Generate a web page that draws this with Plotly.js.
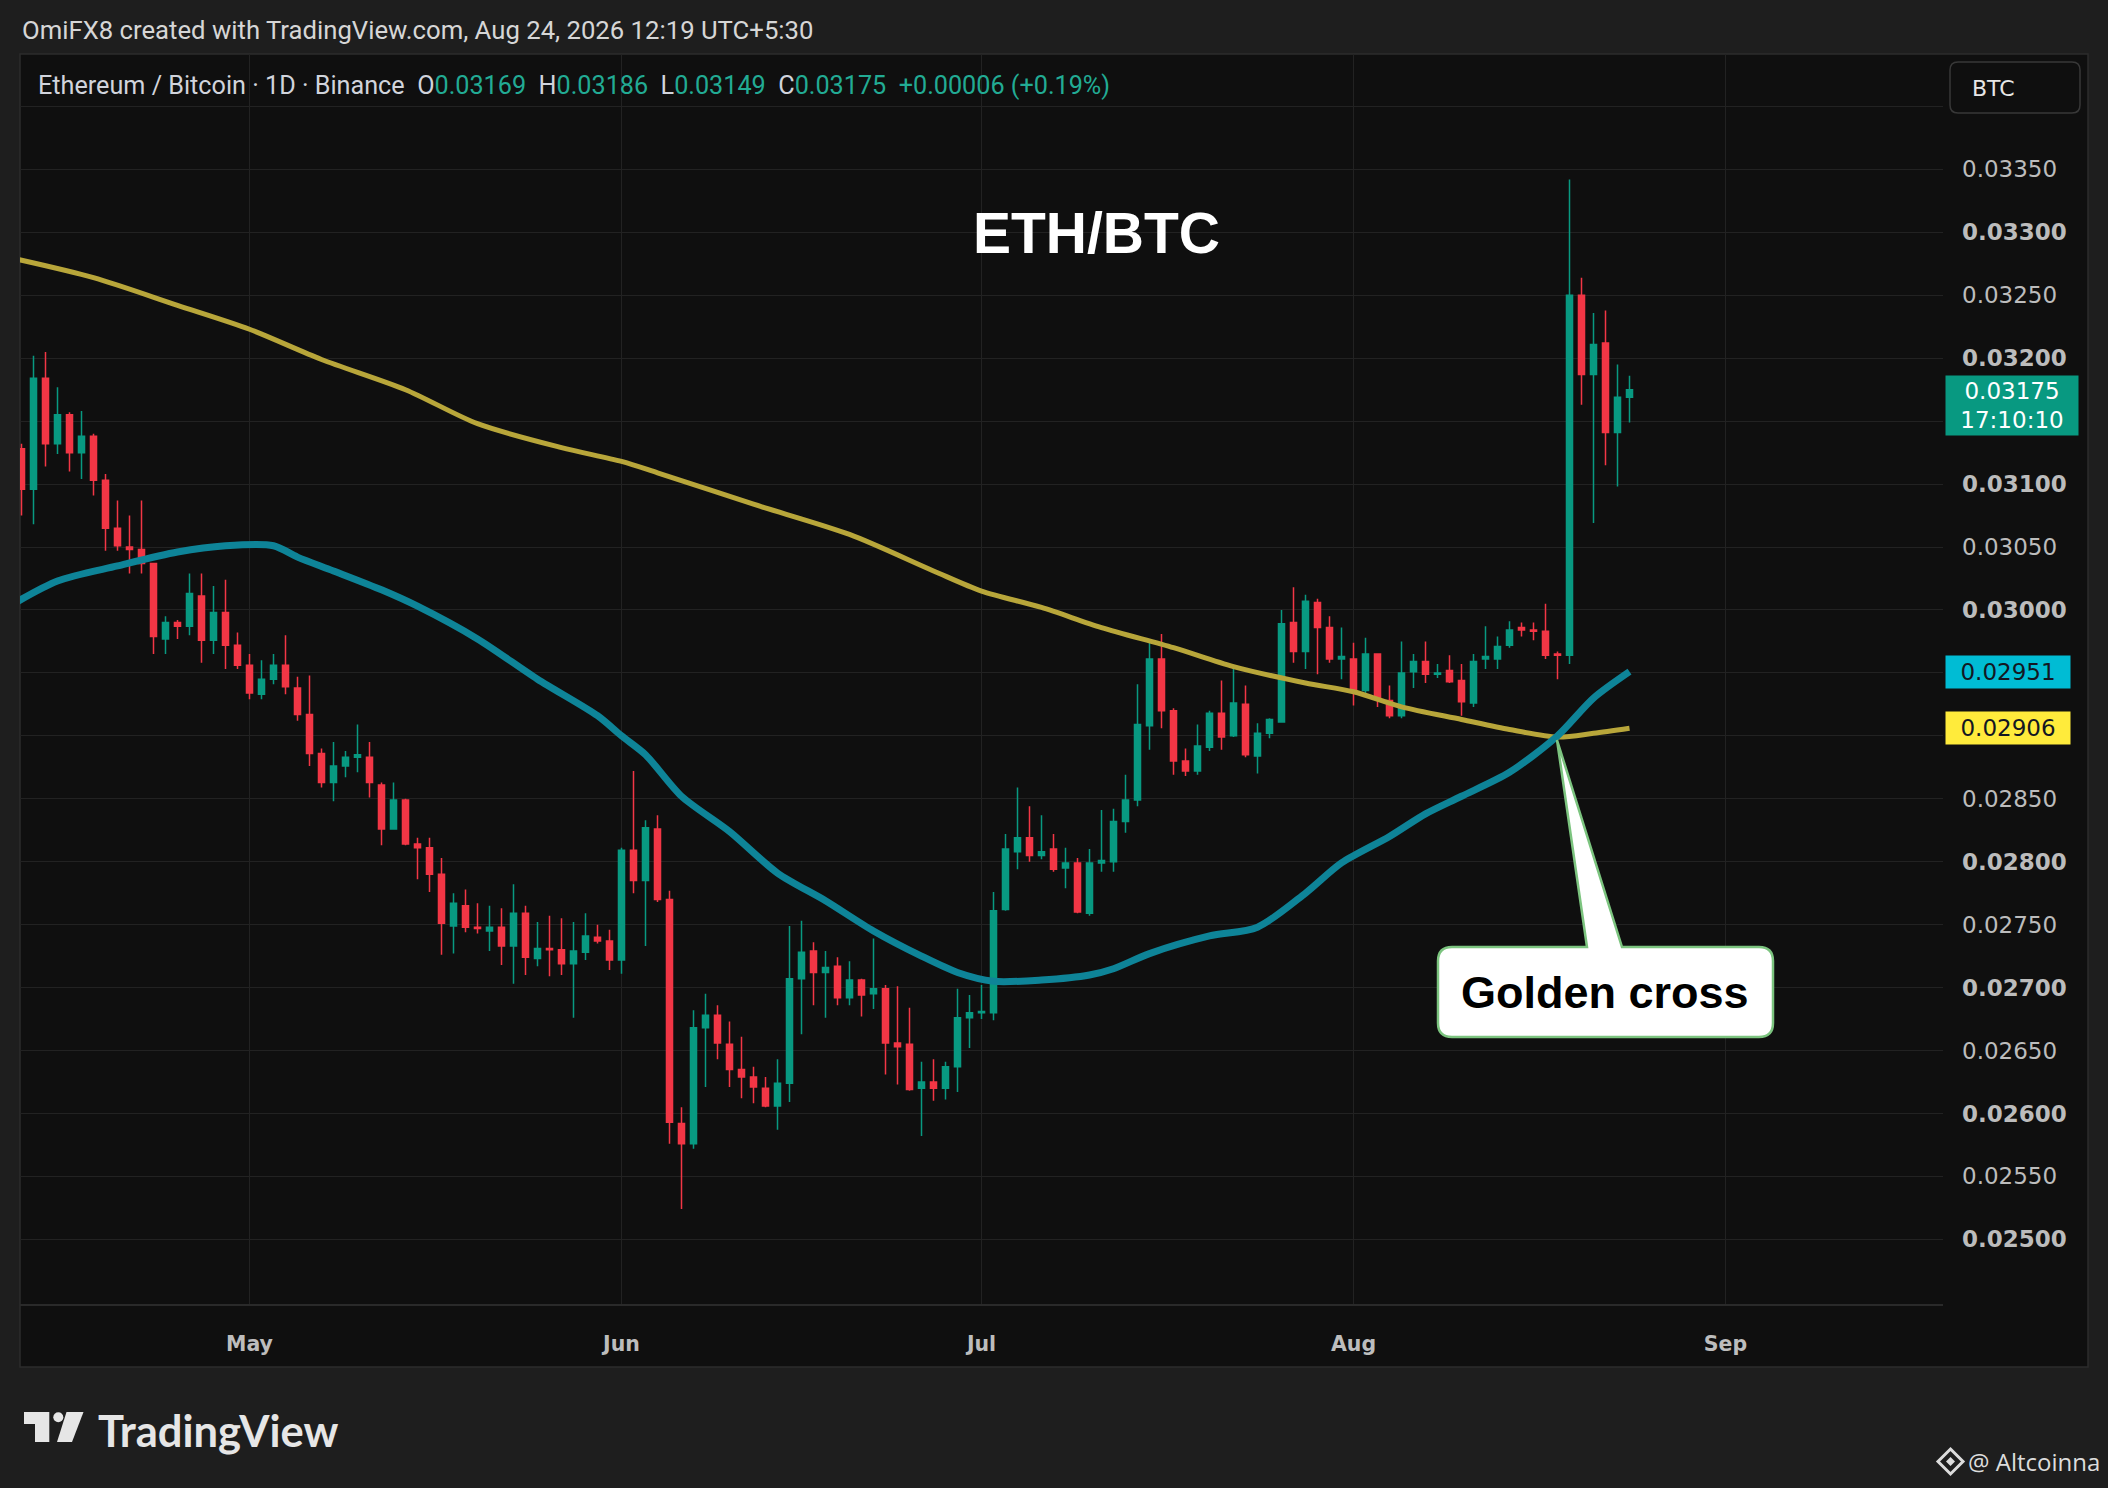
<!DOCTYPE html>
<html><head><meta charset="utf-8">
<script src="https://cdn.plot.ly/plotly-3.0.1.min.js"></script>
<style>html,body{margin:0;padding:0;background:#1e1e1e;} #chart{width:2108px;height:1488px;}</style>
</head><body><div id="chart"></div>
<script>
// ---------- DATA (ETH/BTC daily) ----------
const startDate = '2026-04-12';
const open = [
 .03128,.03096,.03184,.03132,.03155,.03125,.03138,.03103,.03065,.03050,.03048,.03037,.02977,.02990,.02987,.03011,.02976,.02998,.02972,
 .02956,.02933,.02945,.02956,.02938,.02917,.02886,.02863,.02876,.02883,.02883,.02861,.02826,.02849,.02814,.02811,.02790,.02749,.02765,.02748,.02745,.02748,.02733,.02759,.02723,.02731,.02730,.02719,.02728,.02740,.02737,
 .02722,.02809,.02785,.02826,.02770,.02592,.02576,.02668,.02678,.02655,.02635,.02629,.02620,.02606,.02624,.02707,.02729,.02712,.02717,.02692,.02706,.02695,.02699,.02656,.02655,.02620,.02625,.02620,.02637,.02676,
 .02680,.02680,.02762,.02808,.02819,.02805,.02810,.02795,.02799,.02759,.02799,.02800,.02832,.02849,.02908,.02961,.02920,.02880,.02872,.02891,.02918,.02900,.02925,.02884,.02902,.02911,.02990,.02967,.03006,.02986,.02961,
 .02961,.02936,.02965,.02928,.02916,.02951,.02959,.02949,.02952,.02944,.02926,.02961,.02961,.02972,.02986,.02984,.02983,.02965,.02964,.03250,.03187,.03212,.03141,.03169
];
const high = [
 .03132,.03202,.03205,.03177,.03157,.03158,.03140,.03108,.03087,.03075,.03087,.03037,.02995,.02992,.03029,.03029,.03019,.03024,.02982,
 .02965,.02960,.02965,.02980,.02947,.02948,.02890,.02895,.02888,.02909,.02895,.02863,.02863,.02850,.02819,.02819,.02803,.02775,.02778,.02767,.02765,.02763,.02782,.02765,.02752,.02757,.02755,.02752,.02759,.02750,.02746,
 .02811,.02872,.02833,.02837,.02777,.02605,.02682,.02695,.02686,.02673,.02661,.02637,.02629,.02643,.02749,.02753,.02736,.02729,.02724,.02721,.02707,.02739,.02702,.02701,.02684,.02641,.02643,.02641,.02699,.02694,
 .02702,.02776,.02822,.02859,.02844,.02837,.02822,.02811,.02803,.02810,.02841,.02842,.02869,.02941,.02974,.02981,.02922,.02890,.02909,.02920,.02944,.02955,.02940,.02910,.02914,.03000,.03018,.03012,.03009,.02995,.02986,
 .02974,.02978,.02965,.02940,.02975,.02965,.02975,.02957,.02964,.02957,.02965,.02987,.02979,.02991,.02990,.02990,.03005,.02967,.03342,.03264,.03236,.03238,.03195,.03186
];
const low = [
 .03075,.03068,.03114,.03124,.03110,.03104,.03091,.03047,.03047,.03029,.03029,.02965,.02965,.02977,.02980,.02958,.02965,.02953,.02953,
 .02929,.02929,.02941,.02933,.02912,.02876,.02859,.02848,.02867,.02871,.02851,.02813,.02826,.02813,.02786,.02776,.02726,.02727,.02744,.02743,.02729,.02718,.02703,.02710,.02717,.02709,.02710,.02676,.02722,.02735,.02714,
 .02711,.02775,.02733,.02768,.02576,.02524,.02572,.02621,.02643,.02621,.02612,.02608,.02605,.02587,.02609,.02663,.02686,.02676,.02686,.02686,.02677,.02683,.02631,.02623,.02618,.02582,.02610,.02611,.02617,.02652,
 .02675,.02674,.02761,.02794,.02800,.02802,.02792,.02779,.02759,.02757,.02792,.02792,.02823,.02844,.02889,.02906,.02869,.02868,.02869,.02888,.02889,.02899,.02883,.02870,.02898,.02911,.02958,.02953,.02949,.02958,.02945,
 .02924,.02934,.02923,.02914,.02914,.02938,.02942,.02946,.02942,.02916,.02923,.02953,.02953,.02970,.02979,.02976,.02961,.02945,.02957,.03163,.03069,.03115,.03098,.03149
];
const close = [
 .03096,.03184,.03132,.03155,.03125,.03138,.03103,.03065,.03051,.03048,.03037,.02979,.02990,.02987,.03013,.02976,.02998,.02972,.02956,
 .02934,.02945,.02956,.02939,.02917,.02886,.02863,.02876,.02883,.02885,.02863,.02826,.02849,.02814,.02811,.02790,.02751,.02767,.02748,.02747,.02748,.02733,.02759,.02724,.02731,.02730,.02719,.02729,.02741,.02737,.02722,
 .02809,.02785,.02827,.02770,.02593,.02576,.02668,.02678,.02656,.02635,.02629,.02621,.02606,.02624,.02707,.02728,.02712,.02716,.02692,.02706,.02694,.02699,.02656,.02653,.02619,.02625,.02620,.02637,.02676,.02680,
 .02681,.02761,.02810,.02819,.02805,.02808,.02794,.02799,.02760,.02799,.02801,.02832,.02849,.02909,.02961,.02920,.02880,.02872,.02892,.02918,.02899,.02926,.02885,.02902,.02913,.02989,.02967,.03007,.02986,.02961,.02963,
 .02935,.02965,.02930,.02916,.02950,.02959,.02949,.02950,.02943,.02927,.02959,.02963,.02971,.02984,.02984,.02983,.02964,.02964,.03250,.03187,.03211,.03141,.03169,.03175
];
// Moving averages (at sample dates)
const slowMaDates = ['2026-04-11','2026-04-18','2026-04-25','2026-05-01','2026-05-07','2026-05-14','2026-05-20','2026-05-27','2026-06-01','2026-06-04','2026-06-12','2026-06-20','2026-06-27','2026-07-01','2026-07-06','2026-07-11','2026-07-17','2026-07-22','2026-07-28','2026-08-01','2026-08-05','2026-08-10','2026-08-14','2026-08-18','2026-08-21','2026-08-24'];
const slowMa = [.03280,.03264,.03242,.03223,.03199,.03175,.03148,.03129,.03118,.03109,.03084,.03060,.03031,.03015,.03002,.02986,.02970,.02955,.02942,.02935,.02923,.02913,.02905,.02899,.02902,.02906];
const fastMaDates = ['2026-04-11','2026-04-15','2026-04-20','2026-04-25','2026-04-29','2026-05-03','2026-05-05','2026-05-08','2026-05-12','2026-05-15','2026-05-20','2026-05-25','2026-05-30','2026-06-01','2026-06-03','2026-06-06','2026-06-10','2026-06-14','2026-06-18','2026-06-22','2026-06-26','2026-06-29','2026-07-02','2026-07-06','2026-07-10','2026-07-12','2026-07-15','2026-07-20','2026-07-24','2026-07-28','2026-07-31','2026-08-04','2026-08-07','2026-08-10','2026-08-14','2026-08-18','2026-08-21','2026-08-24'];
const fastMa = [.03003,.03023,.03035,.03046,.03051,.03051,.03042,.03031,.03016,.03003,.02977,.02945,.02916,.02900,.02885,.02852,.02824,.02791,.02769,.02745,.02725,.02712,.02705,.02706,.02710,.02715,.02727,.02741,.02748,.02775,.02799,.02820,.02838,.02852,.02871,.02900,.02930,.02951];
// Axis labels
const yTickVals = [0.025,0.0255,0.026,0.0265,0.027,0.0275,0.028,0.0285,0.029,0.0295,0.030,0.0305,0.031,0.0315,0.032,0.0325,0.033,0.0335,0.034];
const yTickText = ['<b>0.02500</b>','0.02550','<b>0.02600</b>','0.02650','<b>0.02700</b>','0.02750','<b>0.02800</b>','0.02850','','','<b>0.03000</b>','0.03050','<b>0.03100</b>','','<b>0.03200</b>','0.03250','<b>0.03300</b>','0.03350',''];
const monthTicks = ['2026-05-01','2026-06-01','2026-07-01','2026-08-01','2026-09-01'];
const monthLabels = ['May','Jun','Jul','Aug','Sep'];
const headerText = 'OmiFX8 created with TradingView.com, Aug 24, 2026 12:19 UTC+5:30';
const symbolText = 'Ethereum / Bitcoin · 1D · Binance';
const countdown = '17:10:10';

// ---------- helpers ----------
function dayList(start, n){const t0=Date.parse(start+'T00:00:00Z');const out=[];for(let i=0;i<n;i++){out.push(new Date(t0+i*86400000).toISOString().slice(0,10));}return out;}
const dates = dayList(startDate, open.length);
const GREEN='#089981', RED='#f23645';
const PL=20, PR=1943, PT=54, PB=1304;
const px = X => (X-PL)/(PR-PL);
const py = Y => (PB-Y)/(PB-PT);
function pathOf(pts){return pts.map((p,i)=>{if(p[0]==='Q')return `Q${px(p[1])},${py(p[2])} ${px(p[3])},${py(p[4])}`;return (i===0?'M':'L')+px(p[0])+','+py(p[1]);}).join(' ')+' Z';}
function roundRect(x0,y0,x1,y1,r){return pathOf([[x0+r,y0],[x1-r,y0],['Q',x1,y0,x1,y0+r],[x1,y1-r],['Q',x1,y1,x1-r,y1],[x0+r,y1],['Q',x0,y1,x0,y1-r],[x0,y0+r],['Q',x0,y0,x0+r,y0]]);}

const n = close.length;
const lastO=open[n-1], lastH=high[n-1], lastL=low[n-1], lastC=close[n-1];
const chg = lastC-close[n-2];
const pct = chg/close[n-2]*100;
const g = s => `<span style="color:#22ab94">${s}</span>`;
const sp='\u00a0\u00a0';
const legendText = symbolText+sp+'O'+g(lastO.toFixed(5))+sp+'H'+g(lastH.toFixed(5))+sp+'L'+g(lastL.toFixed(5))+sp+'C'+g(lastC.toFixed(5))+sp+g((chg>=0?'+':'')+chg.toFixed(5)+' ('+(chg>=0?'+':'')+pct.toFixed(2)+'%)');

const traces = [
 {type:'scatter',mode:'lines',x:slowMaDates,y:slowMa,line:{color:'#b8a63a',width:5,shape:'spline',smoothing:0.8},hoverinfo:'skip',showlegend:false},
 {type:'scatter',mode:'lines',x:fastMaDates,y:fastMa,line:{color:'#0e8498',width:7,shape:'spline',smoothing:0.8},hoverinfo:'skip',showlegend:false},
 {type:'candlestick',x:dates,open:open,high:high,low:low,close:close,
  increasing:{line:{color:GREEN,width:1.5},fillcolor:GREEN},
  decreasing:{line:{color:RED,width:1.5},fillcolor:RED},
  whiskerwidth:0,hoverinfo:'skip',showlegend:false}
];

const shapes = [
 {type:'rect',xref:'paper',yref:'paper',x0:px(20),x1:px(2088),y0:py(54),y1:py(1367),fillcolor:'#0f0f0f',line:{color:'#2c2c2c',width:1.5},layer:'below'},
 {type:'path',xref:'paper',yref:'paper',path:roundRect(1950,62,2080,113,8),fillcolor:'#0f0f0f',line:{color:'#383838',width:1.5},layer:'above'},
 {type:'path',xref:'paper',yref:'paper',path:pathOf([[1452,947],[1587,947],[1557,740],[1622,947],[1759,947],['Q',1773,947,1773,961],[1773,1023],['Q',1773,1037,1759,1037],[1452,1037],['Q',1438,1037,1438,1023],[1438,961],['Q',1438,947,1452,947]]),fillcolor:'#ffffff',line:{color:'#7cc47f',width:2.5},layer:'above'},
 {type:'path',xref:'paper',yref:'paper',path:pathOf([[24,1412],[49.3,1412],[49.3,1442],[35,1442],[35,1424],[24,1424]]),fillcolor:'#e6e6e6',line:{width:0}},
 {type:'circle',xref:'paper',yref:'paper',x0:px(53.3),x1:px(63.3),y0:py(1422.3),y1:py(1412.3),fillcolor:'#e6e6e6',line:{width:0}},
 {type:'path',xref:'paper',yref:'paper',path:pathOf([[66.5,1412],[83.5,1412],[72,1442],[57,1442]]),fillcolor:'#e6e6e6',line:{width:0}},
 {type:'path',xref:'paper',yref:'paper',path:pathOf([[1950.5,1449],[1963,1461.5],[1950.5,1474],[1938,1461.5]]),fillcolor:'rgba(0,0,0,0)',line:{color:'#dcdcdc',width:3}},
 {type:'path',xref:'paper',yref:'paper',path:pathOf([[1950.5,1457],[1955,1461.5],[1950.5,1466],[1946,1461.5]]),fillcolor:'#dcdcdc',line:{width:0}}
];

const annotations = [
 {xref:'paper',yref:'paper',x:px(20),y:py(30),xanchor:'left',yanchor:'middle',showarrow:false,text:headerText,font:{family:'Roboto',size:25.7,color:'#d6d6d6'}},
 {xref:'paper',yref:'paper',x:px(36),y:py(85),xanchor:'left',yanchor:'middle',showarrow:false,text:legendText,font:{family:'Roboto',size:25.2,color:'#d1d4dc'}},
 {xref:'paper',yref:'paper',x:px(1096),y:py(233),xanchor:'center',yanchor:'middle',showarrow:false,text:'<b>ETH/BTC</b>',font:{family:'Liberation Sans',size:57,color:'#ffffff'}},
 {xref:'paper',yref:'paper',x:px(1970),y:py(88),xanchor:'left',yanchor:'middle',showarrow:false,text:'BTC',font:{family:'DejaVu Sans',size:22,color:'#e6e6e6'}},
 {xref:'paper',yref:'y',x:px(1945),y:lastC,xanchor:'left',yanchor:'top',yshift:15,showarrow:false,text:lastC.toFixed(5)+'<br>'+countdown,align:'center',width:124,height:51,borderpad:4,bgcolor:GREEN,font:{family:'DejaVu Sans',size:23,color:'#ffffff'}},
 {xref:'paper',yref:'y',x:px(1945),y:fastMa[fastMa.length-1],xanchor:'left',yanchor:'middle',showarrow:false,text:fastMa[fastMa.length-1].toFixed(5),align:'center',width:116,height:24,borderpad:4,bgcolor:'#00bcd4',font:{family:'DejaVu Sans',size:23,color:'#131722'}},
 {xref:'paper',yref:'y',x:px(1945),y:slowMa[slowMa.length-1],xanchor:'left',yanchor:'middle',showarrow:false,text:slowMa[slowMa.length-1].toFixed(5),align:'center',width:116,height:24,borderpad:4,bgcolor:'#ffeb3b',font:{family:'DejaVu Sans',size:23,color:'#131722'}},
 {xref:'paper',yref:'paper',x:px(1605),y:py(992),xanchor:'center',yanchor:'middle',showarrow:false,text:'<b>Golden cross</b>',font:{family:'Liberation Sans',size:45,color:'#000000'}},
 {xref:'paper',yref:'paper',x:px(96),y:py(1430),xanchor:'left',yanchor:'middle',showarrow:false,text:'<b>TradingView</b>',font:{family:'Lato',size:43.5,color:'#e6e6e6'}},
 {xref:'paper',yref:'paper',x:px(1966),y:py(1461),xanchor:'left',yanchor:'middle',showarrow:false,text:'@ Altcoinna',font:{family:'Open Sans',size:24,color:'#dcdcdc'}}
];

const layout = {
 width:2108,height:1488,
 paper_bgcolor:'#1e1e1e',plot_bgcolor:'rgba(0,0,0,0)',
 margin:{l:20,r:165,t:54,b:184,pad:0},
 showlegend:false,hovermode:false,dragmode:false,
 boxgap:0.28,
 xaxis:{type:'date',range:['2026-04-11 21:00','2026-09-19 03:00'],rangeslider:{visible:false},
  tickmode:'array',tickvals:monthTicks,ticktext:monthLabels,ticks:'',ticklabelstandoff:21,
  tickfont:{family:'DejaVu Sans',size:20.5,color:'#bdbdbd',weight:'bold'},
  showgrid:true,gridcolor:'#222222',gridwidth:1,zeroline:false,showline:true,linecolor:'#2a2a2a',linewidth:1.5,fixedrange:true},
 yaxis:{side:'right',range:[0.024486,0.034417],tickmode:'array',tickvals:yTickVals,ticktext:yTickText,ticks:'',ticklabelstandoff:18,
  tickfont:{family:'DejaVu Sans',size:23,color:'#bcbcbc'},
  showgrid:true,gridcolor:'#222222',gridwidth:1,zeroline:false,showline:false,fixedrange:true},
 shapes:shapes,annotations:annotations
};

Plotly.newPlot('chart',traces,layout,{displayModeBar:false,staticPlot:true});
</script></body></html>
